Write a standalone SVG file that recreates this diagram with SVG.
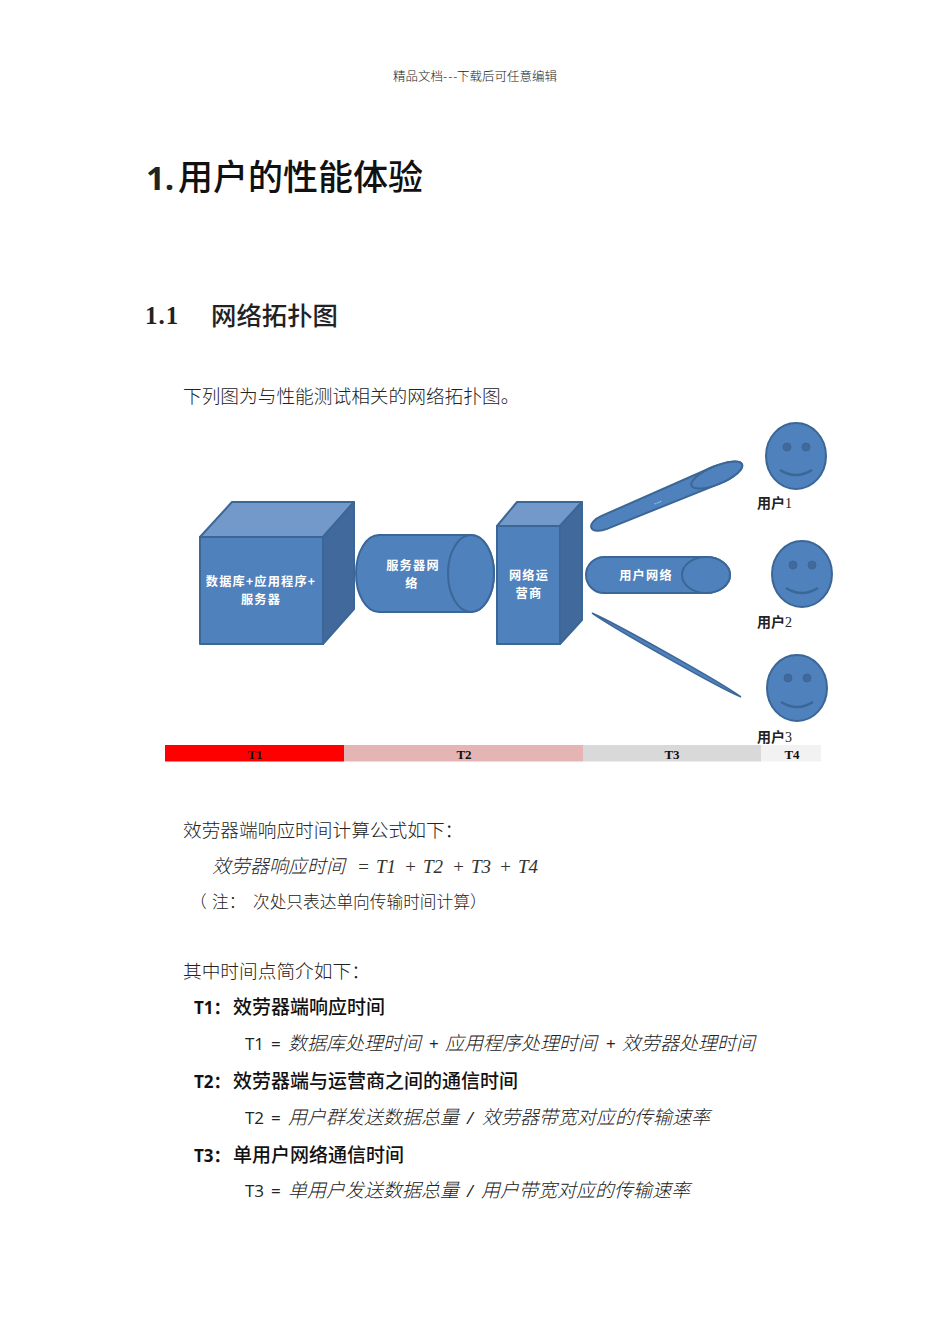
<svg xmlns="http://www.w3.org/2000/svg" width="950" height="1344" viewBox="0 0 950 1344">
<style>
text{font-family:"Liberation Serif","Noto Sans CJK SC",serif;fill:#222}
.cjk{font-family:"Noto Sans CJK SC",sans-serif;font-weight:300}
.b{font-family:"Noto Sans CJK SC",sans-serif;font-weight:500;fill:#111}
.body{font-size:18.7px}
.h{font-size:19px}
.it{font-style:italic}
.sans{font-family:"Open Sans","Noto Sans CJK SC",sans-serif;font-weight:400;font-size:17px}
.bs{font-family:"Open Sans","Noto Sans CJK SC",sans-serif;font-weight:700;font-size:17px;fill:#111}
.f{fill:#4f81bd;stroke:#3b6797;stroke-width:2;stroke-linejoin:round}
.top{fill:#7299c9;stroke:#3b6797;stroke-width:2;stroke-linejoin:round}
.side{fill:#41699b;stroke:#3b6797;stroke-width:2;stroke-linejoin:round}
.l{font-family:"Noto Sans CJK SC",sans-serif;font-weight:700;fill:#fff;text-anchor:middle;font-size:12.200px;letter-spacing:1.200px}
.u{font-family:"Noto Sans CJK SC",sans-serif;font-weight:700;fill:#222;font-size:14px}
.t{font-family:"Liberation Serif",serif;font-weight:700;fill:#111;text-anchor:middle;font-size:13px}
.e{fill:#41699b;stroke:#3b6797;stroke-width:1}
.s{fill:none;stroke:#3b6797;stroke-width:2.500}
.fm{font-family:"Liberation Serif",serif;font-style:italic;font-size:19px;fill:#333}
</style>

<text class="cjk" y="81" font-size="12.500"><tspan x="393">精品文档</tspan><tspan x="443" letter-spacing="1">---</tspan><tspan x="457">下载后可任意编辑</tspan></text>
<text x="146" y="190" font-size="33" style="font-family:'Open Sans',sans-serif;font-weight:700">1.</text>
<text class="b" x="178" y="190" font-size="35">用户的性能体验</text>
<text x="145" y="324" font-size="25" font-weight="700" letter-spacing="1">1.1</text>
<text class="cjk" x="211" y="325" font-size="25.400" style="font-weight:500">网络拓扑图</text>
<text class="cjk body" x="183" y="403">下列图为与性能测试相关的网络拓扑图。</text>

<g id="node-server">
<rect class="f" x="200" y="537" width="123" height="107"/>
<polygon class="top" points="200,537 232,502 354,502 323,537"/>
<polygon class="side" points="323,537 354,502 354,609 323,644"/>
<text class="l" x="261" y="586">数据库+应用程序+</text>
<text class="l" x="261" y="604">服务器</text>
</g>
<g id="node-server-network">
<path class="f" d="M379,535H471A23,38.500 0 0 1 471,612H379A23,38.500 0 0 1 379,535Z"/>
<ellipse class="f" cx="471" cy="573.500" rx="23" ry="38.500"/>
<text class="l" x="413" y="570">服务器网</text>
<text class="l" x="412" y="588">络</text>
</g>
<g id="node-carrier">
<rect class="f" x="497" y="526" width="63" height="118"/>
<polygon class="top" points="497,526 517,502 582,502 560,526"/>
<polygon class="side" points="560,526 582,502 582,620 560,644"/>
<text class="l" x="529" y="580">网络运</text>
<text class="l" x="529" y="598">营商</text>
</g>
<g id="node-user-network">
<path class="f" d="M604,557H706A24,18 0 0 1 706,593H604A18,18 0 0 1 604,557Z"/>
<ellipse class="f" cx="706" cy="575" rx="24" ry="18"/>
<text class="l" x="646" y="580">用户网络</text>
</g>
<g id="node-link-1" transform="translate(667,496) rotate(-22.800)">
<path class="f" d="M-68,-7L54,-9A27.400,9 0 0 1 54,9L-68,7A14,7 0 0 1 -68,-7Z"/>
<ellipse class="f" cx="54" cy="0" rx="27.400" ry="9"/>
<text x="-11" y="3" font-size="8" style="fill:#dce8f5" text-anchor="middle">....</text>
</g>
<g id="node-link-3" transform="translate(666.500,655) rotate(29.400)">
<path class="f" d="M-85,0C-60,-2.500 60,-3 85,0C60,3 -60,2.500 -85,0Z" style="stroke-width:1.500"/>
</g>
<g id="node-user-1">
<ellipse class="f" cx="796" cy="456" rx="30" ry="33"/>
<circle class="e" cx="787" cy="447" r="4"/><circle class="e" cx="806" cy="447" r="4"/>
<path class="s" d="M780,470Q796,480 812,470"/>
<text class="u" x="757" y="508">用户<tspan font-family="Liberation Serif" font-weight="400">1</tspan></text>
</g>
<g id="node-user-2">
<ellipse class="f" cx="802" cy="574" rx="30" ry="33"/>
<circle class="e" cx="793" cy="565" r="4"/><circle class="e" cx="812" cy="565" r="4"/>
<path class="s" d="M786,588Q802,598 818,588"/>
<text class="u" x="757" y="627">用户<tspan font-family="Liberation Serif" font-weight="400">2</tspan></text>
</g>
<g id="node-user-3">
<ellipse class="f" cx="797" cy="688" rx="30" ry="33"/>
<circle class="e" cx="788" cy="678" r="4"/><circle class="e" cx="807" cy="678" r="4"/>
<path class="s" d="M781,702Q797,712 813,702"/>
<text class="u" x="757" y="742">用户<tspan font-family="Liberation Serif" font-weight="400">3</tspan></text>
</g>
<g id="connectors"></g>
<g id="timeline">
<rect x="165" y="745" width="179" height="16.500" fill="#fe0000"/>
<rect x="344" y="745" width="239" height="16.500" fill="#e5b5b5"/>
<rect x="583" y="745" width="178" height="16.500" fill="#d9d9d9"/>
<rect x="761" y="745" width="60" height="16.500" fill="#f2f2f2"/>
<text class="t" x="255" y="759">T1</text>
<text class="t" x="464" y="759">T2</text>
<text class="t" x="672" y="759">T3</text>
<text class="t" x="792" y="759">T4</text>
</g>

<text class="cjk body" x="183" y="837">效劳器端响应时间计算公式如下：</text>
<text class="cjk h it" x="212" y="873">效劳器响应时间</text>
<text class="fm" y="873"><tspan x="357">=</tspan><tspan x="376">T1</tspan><tspan x="404">+</tspan><tspan x="423">T2</tspan><tspan x="452">+</tspan><tspan x="471">T3</tspan><tspan x="499">+</tspan><tspan x="518">T4</tspan></text>
<text class="cjk" x="190" y="908" font-size="16.700">（</text>
<text class="cjk" x="212" y="908" font-size="16.700">注：</text>
<text class="cjk" x="253" y="908" font-size="16.700">次处只表达单向传输时间计算）</text>
<text class="cjk body" x="183" y="978">其中时间点简介如下：</text>

<text class="bs" x="194" y="1014">T1：</text>
<text class="b h" x="233" y="1014">效劳器端响应时间</text>
<text class="sans" y="1050"><tspan x="245">T1</tspan><tspan x="271">=</tspan></text>
<text class="cjk h it" x="288" y="1050">数据库处理时间</text>
<text class="sans" x="429" y="1050">+</text>
<text class="cjk h it" x="445" y="1050">应用程序处理时间</text>
<text class="sans" x="606" y="1050">+</text>
<text class="cjk h it" x="622" y="1050">效劳器处理时间</text>

<text class="bs" x="194" y="1088">T2：</text>
<text class="b h" x="233" y="1088">效劳器端与运营商之间的通信时间</text>
<text class="sans" y="1124"><tspan x="245">T2</tspan><tspan x="271">=</tspan></text>
<text class="cjk h it" x="288" y="1124">用户群发送数据总量</text>
<text class="sans it" x="467" y="1124">/</text>
<text class="cjk h it" x="482" y="1124">效劳器带宽对应的传输速率</text>

<text class="bs" x="194" y="1162">T3：</text>
<text class="b h" x="233" y="1162">单用户网络通信时间</text>
<text class="sans" y="1197"><tspan x="245">T3</tspan><tspan x="271">=</tspan></text>
<text class="cjk h it" x="288" y="1197">单用户发送数据总量</text>
<text class="sans it" x="467" y="1197">/</text>
<text class="cjk h it" x="481" y="1197">用户带宽对应的传输速率</text>
</svg>
